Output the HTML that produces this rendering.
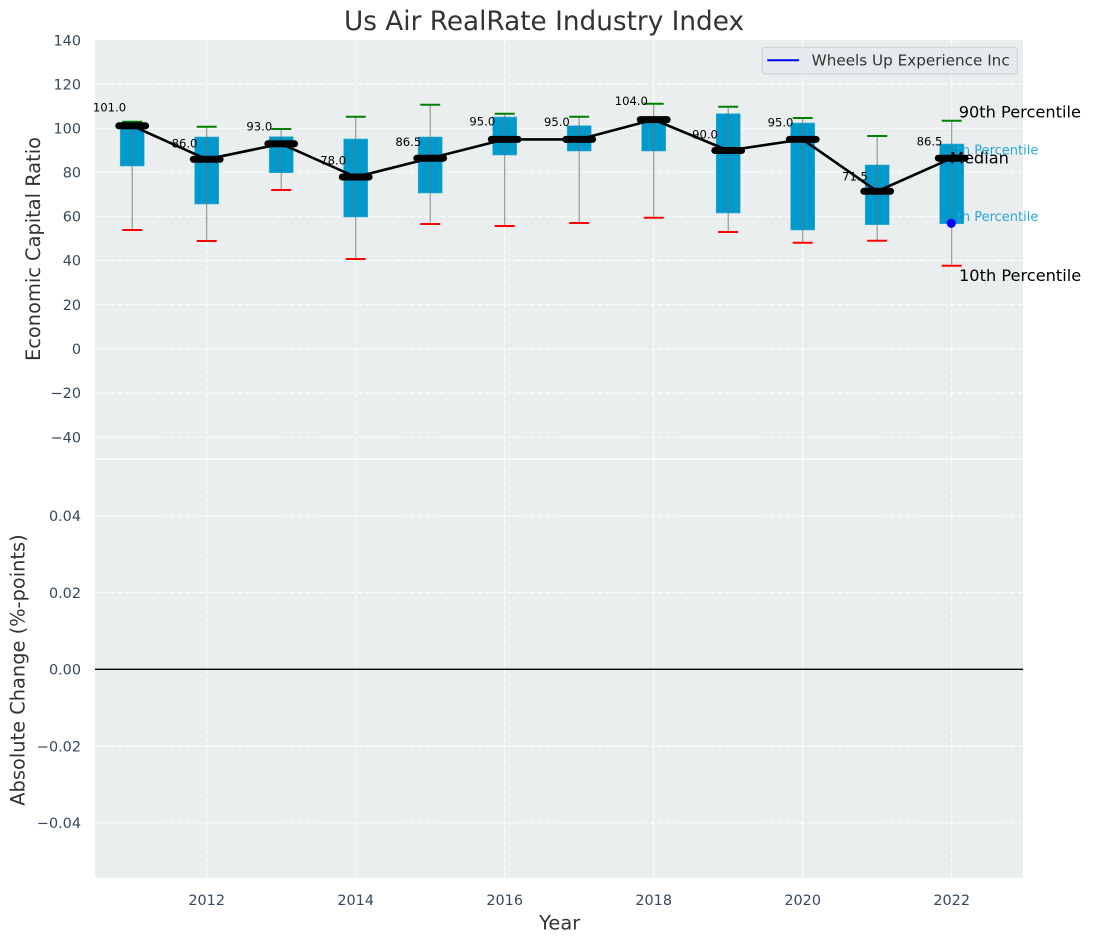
<!DOCTYPE html>
<html><head><meta charset="utf-8"><style>
html,body{margin:0;padding:0;background:#fff;}
svg{display:block;font-family:"DejaVu Sans","Liberation Sans",sans-serif;}
</style></head><body>
<svg width="1093" height="942" viewBox="0 0 1093 942" xmlns="http://www.w3.org/2000/svg">
<rect x="0" y="0" width="1093" height="942" fill="#fff"/>
<!-- axes backgrounds -->
<rect x="95" y="40" width="928" height="418.3" fill="#eaeeef"/>
<rect x="95" y="459.7" width="928" height="418" fill="#eaeeef"/>
<!-- grid top -->
<g stroke="#ffffff" stroke-width="1" stroke-dasharray="5,2.5" opacity="0.95">
<line x1="95" x2="1023" y1="84.1" y2="84.1"/>
<line x1="95" x2="1023" y1="128.2" y2="128.2"/>
<line x1="95" x2="1023" y1="172.3" y2="172.3"/>
<line x1="95" x2="1023" y1="216.4" y2="216.4"/>
<line x1="95" x2="1023" y1="260.5" y2="260.5"/>
<line x1="95" x2="1023" y1="304.6" y2="304.6"/>
<line x1="95" x2="1023" y1="348.7" y2="348.7"/>
<line x1="95" x2="1023" y1="392.9" y2="392.9"/>
<line x1="95" x2="1023" y1="437.2" y2="437.2"/>
<line x1="206.7" x2="206.7" y1="40" y2="458.3"/>
<line x1="355.7" x2="355.7" y1="40" y2="458.3"/>
<line x1="504.7" x2="504.7" y1="40" y2="458.3"/>
<line x1="653.7" x2="653.7" y1="40" y2="458.3"/>
<line x1="802.7" x2="802.7" y1="40" y2="458.3"/>
<line x1="951.7" x2="951.7" y1="40" y2="458.3"/>
<!-- grid bottom -->
<line x1="95" x2="1023" y1="516" y2="516"/>
<line x1="95" x2="1023" y1="592.6" y2="592.6"/>
<line x1="95" x2="1023" y1="746.1" y2="746.1"/>
<line x1="95" x2="1023" y1="822.7" y2="822.7"/>
<line x1="206.7" x2="206.7" y1="459.7" y2="877.7"/>
<line x1="355.7" x2="355.7" y1="459.7" y2="877.7"/>
<line x1="504.7" x2="504.7" y1="459.7" y2="877.7"/>
<line x1="653.7" x2="653.7" y1="459.7" y2="877.7"/>
<line x1="802.7" x2="802.7" y1="459.7" y2="877.7"/>
<line x1="951.7" x2="951.7" y1="459.7" y2="877.7"/>
</g>
<!-- zero line bottom -->
<line x1="95" x2="1023" y1="669.3" y2="669.3" stroke="#000" stroke-width="1.4"/>

<!-- boxes -->
<g fill="#0099cc" stroke="#3fb0d8" stroke-width="0.6">
<rect x="120.2" y="124" width="24" height="42"/>
<rect x="194.7" y="137" width="24" height="67"/>
<rect x="269.2" y="136.7" width="24" height="36"/>
<rect x="343.7" y="139" width="24" height="78"/>
<rect x="418.2" y="137" width="24" height="56"/>
<rect x="492.7" y="117" width="24" height="38"/>
<rect x="567.2" y="125.7" width="24" height="25.3"/>
<rect x="641.7" y="117" width="24" height="34"/>
<rect x="716.2" y="113.7" width="24" height="99.3"/>
<rect x="790.7" y="123" width="24" height="107"/>
<rect x="865.2" y="165" width="24" height="59.7"/>
<rect x="939.7" y="144" width="24" height="79.7"/>
</g>
<!-- whiskers -->
<g stroke="#6f7272" stroke-width="1.1" opacity="0.75">
<line x1="132.2" x2="132.2" y1="121.7" y2="230"/>
<line x1="206.7" x2="206.7" y1="126.7" y2="241"/>
<line x1="281.2" x2="281.2" y1="129" y2="190"/>
<line x1="355.7" x2="355.7" y1="116.7" y2="259"/>
<line x1="430.2" x2="430.2" y1="104.7" y2="224"/>
<line x1="504.7" x2="504.7" y1="113.7" y2="226"/>
<line x1="579.2" x2="579.2" y1="116.7" y2="223"/>
<line x1="653.7" x2="653.7" y1="103.7" y2="217.7"/>
<line x1="728.2" x2="728.2" y1="106.7" y2="232"/>
<line x1="802.7" x2="802.7" y1="118" y2="242.7"/>
<line x1="877.2" x2="877.2" y1="136" y2="240.7"/>
<line x1="951.7" x2="951.7" y1="120.7" y2="265.7"/>
</g>
<!-- caps 90th (green) -->
<g stroke="#008000" stroke-width="2">
<line x1="122.2" x2="142.2" y1="121.7" y2="121.7"/>
<line x1="196.7" x2="216.7" y1="126.7" y2="126.7"/>
<line x1="271.2" x2="291.2" y1="129" y2="129"/>
<line x1="345.7" x2="365.7" y1="116.7" y2="116.7"/>
<line x1="420.2" x2="440.2" y1="104.7" y2="104.7"/>
<line x1="494.7" x2="514.7" y1="113.7" y2="113.7"/>
<line x1="569.2" x2="589.2" y1="116.7" y2="116.7"/>
<line x1="643.7" x2="663.7" y1="103.7" y2="103.7"/>
<line x1="718.2" x2="738.2" y1="106.7" y2="106.7"/>
<line x1="792.7" x2="812.7" y1="118" y2="118"/>
<line x1="867.2" x2="887.2" y1="136" y2="136"/>
<line x1="941.7" x2="961.7" y1="120.7" y2="120.7"/>
</g>
<!-- caps 10th (red) -->
<g stroke="#ff0000" stroke-width="2">
<line x1="122.2" x2="142.2" y1="230" y2="230"/>
<line x1="196.7" x2="216.7" y1="241" y2="241"/>
<line x1="271.2" x2="291.2" y1="190" y2="190"/>
<line x1="345.7" x2="365.7" y1="259" y2="259"/>
<line x1="420.2" x2="440.2" y1="224" y2="224"/>
<line x1="494.7" x2="514.7" y1="226" y2="226"/>
<line x1="569.2" x2="589.2" y1="223" y2="223"/>
<line x1="643.7" x2="663.7" y1="217.7" y2="217.7"/>
<line x1="718.2" x2="738.2" y1="232" y2="232"/>
<line x1="792.7" x2="812.7" y1="242.7" y2="242.7"/>
<line x1="867.2" x2="887.2" y1="240.7" y2="240.7"/>
<line x1="941.7" x2="961.7" y1="265.7" y2="265.7"/>
</g>
<!-- median connecting line -->
<polyline fill="none" stroke="#000" stroke-width="2.6" stroke-linejoin="round"
 points="132.2,125.8 206.7,159.3 281.2,143.8 355.7,177 430.2,158.2 504.7,139.4 579.2,139.4 653.7,119.6 728.2,150.5 802.7,139.4 877.2,191.3 951.7,158.2"/>
<!-- median bars -->
<g stroke="#000" stroke-width="7" stroke-linecap="round">
<line x1="118.8" x2="145.6" y1="125.8" y2="125.8"/>
<line x1="193.3" x2="220.1" y1="159.3" y2="159.3"/>
<line x1="267.8" x2="294.6" y1="143.8" y2="143.8"/>
<line x1="342.3" x2="369.1" y1="177" y2="177"/>
<line x1="416.8" x2="443.6" y1="158.2" y2="158.2"/>
<line x1="491.3" x2="518.1" y1="139.4" y2="139.4"/>
<line x1="565.8" x2="592.6" y1="139.4" y2="139.4"/>
<line x1="640.3" x2="667.1" y1="119.6" y2="119.6"/>
<line x1="714.8" x2="741.6" y1="150.5" y2="150.5"/>
<line x1="789.3" x2="816.1" y1="139.4" y2="139.4"/>
<line x1="863.8" x2="890.6" y1="191.3" y2="191.3"/>
<line x1="938.3" x2="965.1" y1="158.2" y2="158.2"/>
</g>
<!-- median labels -->
<g font-size="11.6" fill="#000" text-anchor="middle">
<text x="109.5" y="111.7">101.0</text>
<text x="184.5" y="147.3">86.0</text>
<text x="259.3" y="130.7">93.0</text>
<text x="333.2" y="164.7">78.0</text>
<text x="408.3" y="146">86.5</text>
<text x="482.3" y="125.7">95.0</text>
<text x="556.9" y="126">95.0</text>
<text x="631.3" y="105">104.0</text>
<text x="705" y="138.3">90.0</text>
<text x="780.5" y="126.3">95.0</text>
<text x="855" y="180.7">71.5</text>
<text x="929.5" y="145.7">86.5</text>
</g>
<!-- percentile annotations -->
<text x="940.2" y="154.3" font-size="13" fill="#2aa7d6"><tspan fill="#0099cc">75</tspan>th Percentile</text>
<text x="940.2" y="221" font-size="13" fill="#2aa7d6"><tspan fill="#0099cc">25</tspan>th Percentile</text>
<circle cx="951.3" cy="223.3" r="4.6" fill="#0000ff"/>
<text x="958.7" y="117.3" font-size="16.2" fill="#000">90th Percentile</text>
<text x="950" y="163.3" font-size="16.2" fill="#000">Median</text>
<text x="959" y="281" font-size="16.2" fill="#000">10th Percentile</text>
<!-- legend -->
<rect x="762.3" y="47.3" width="255" height="26.7" rx="3" fill="#e7eaed" stroke="#cdd1d4" stroke-width="1"/>
<line x1="767.3" x2="799" y1="60.3" y2="60.3" stroke="#0000ff" stroke-width="2"/>
<text x="811.7" y="65.5" font-size="15" fill="#333" textLength="198" lengthAdjust="spacingAndGlyphs">Wheels Up Experience Inc</text>
<!-- title -->
<text x="544" y="30" font-size="26.3" fill="#333" text-anchor="middle">Us Air RealRate Industry Index</text>
<!-- y tick labels top -->
<g font-size="14.4" fill="#34495e" text-anchor="end">
<text x="81" y="45.3">140</text>
<text x="81" y="89.3">120</text>
<text x="81" y="133.4">100</text>
<text x="81" y="177.5">80</text>
<text x="81" y="221.6">60</text>
<text x="81" y="265.7">40</text>
<text x="81" y="309.8">20</text>
<text x="81" y="353.9">0</text>
<text x="81" y="398.1">−20</text>
<text x="81" y="442.4">−40</text>
<!-- bottom -->
<text x="81" y="521.2">0.04</text>
<text x="81" y="597.8">0.02</text>
<text x="81" y="674.5">0.00</text>
<text x="81" y="751.3">−0.02</text>
<text x="81" y="827.9">−0.04</text>
</g>
<!-- x tick labels -->
<g font-size="14.4" fill="#34495e" text-anchor="middle">
<text x="206.7" y="905">2012</text>
<text x="355.7" y="905">2014</text>
<text x="504.7" y="905">2016</text>
<text x="653.7" y="905">2018</text>
<text x="802.7" y="905">2020</text>
<text x="951.7" y="905">2022</text>
</g>
<!-- axis labels -->
<text x="559.7" y="929.3" font-size="19.4" fill="#333" text-anchor="middle">Year</text>
<text transform="translate(40,249) rotate(-90)" font-size="19.4" fill="#333" text-anchor="middle">Economic Capital Ratio</text>
<text transform="translate(24.5,670) rotate(-90)" font-size="19.4" fill="#333" text-anchor="middle">Absolute Change (%-points)</text>
</svg>
</body></html>
